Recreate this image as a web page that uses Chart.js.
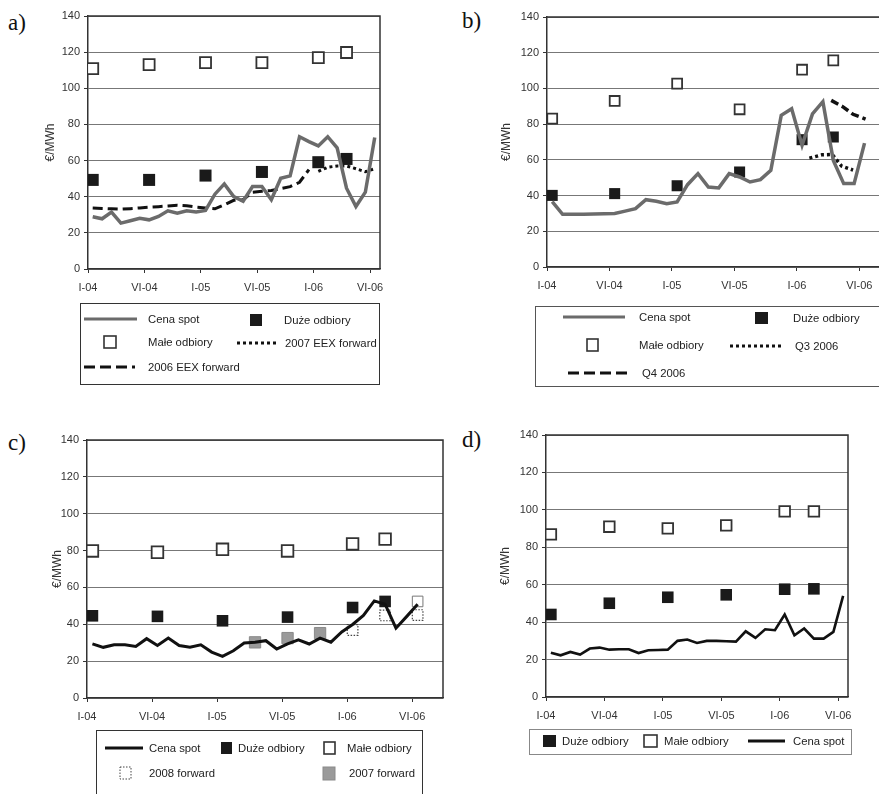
<!DOCTYPE html>
<html>
<head>
<meta charset="utf-8">
<script src="https://cdn.jsdelivr.net/npm/chart.js@4.4.1/dist/chart.umd.min.js"></script>
<style>
  body { margin: 0; width: 879px; height: 794px; position: relative; overflow: hidden; background: #fff;
         font-family: "Liberation Sans", Arial, sans-serif; }
  canvas { position: absolute; }
  .tag { position: absolute; font-family: "Liberation Serif", "Times New Roman", serif; font-size: 23px; line-height: 23px; color: #111; }
  .legend { position: absolute; box-sizing: border-box; border-style: solid; }
  .item { position: absolute; font-size: 11.3px; line-height: 14px; color: #222; white-space: nowrap; }
  #sym { position: absolute; left: 0; top: 0; overflow: visible; }
</style>
</head>
<body>
<div class="tag" style="left:8px;top:11px">a)</div>
<div class="tag" style="left:462px;top:9px">b)</div>
<div class="tag" style="left:8px;top:431px">c)</div>
<div class="tag" style="left:462px;top:428px">d)</div>
<canvas id="chart-a"></canvas>
<canvas id="chart-b"></canvas>
<canvas id="chart-c"></canvas>
<canvas id="chart-d"></canvas>
<svg id="sym" width="879" height="794"></svg>
<script>
// osie: miesiące od I-04
const tickMonths = [0, 6, 12, 18, 24, 30];
const tickLabels = ['I-04', 'VI-04', 'I-05', 'VI-05', 'I-06', 'VI-06'];
const spotMonths = [0.5, 1.5, 2.5, 3.5, 4.5, 5.5, 6.5, 7.5, 8.5, 9.5, 10.5, 11.5, 12.5, 13.5, 14.5, 15.5,
                    16.5, 17.5, 18.5, 19.5, 20.5, 21.5, 22.5, 23.5, 24.5, 25.5, 26.5, 27.5, 28.5, 29.5, 30.5];
const markerMonths = [0.5, 6.5, 12.5, 18.5, 24.5, 27.5];

// a)
const spotA = [28.9, 27.8, 31.5, 25.4, 26.7, 28.1, 27.2, 29.1, 32.2, 30.9, 32.2, 31.6, 32.4, 41.4, 47.1, 40.1,
               37.5, 45.6, 45.6, 38.3, 50.2, 51.5, 73.2, 70.5, 68.1, 73.2, 67.1, 44.7, 34.6, 42.5, 72.8];
const largeA = [49.3, 49.3, 51.7, 53.7, 59.1, 60.9];
const smallA = [110.9, 113.1, 114.2, 114.2, 117.0, 119.8];
const eex2006 = [33.7, 33.5, 33.3, 33.1, 33.4, 33.8, 34.2, 34.5, 34.9, 35.3, 35.0, 34.3,
                 33.8, 33.3, 35.5, 38.0, 38.3, 42.5, 43.0, 43.4, 44.5, 45.6, 48.0, 55.0];
const eex2007 = [54.0, 56.3, 57.0, 57.0, 55.5, 53.8, 55.5];

// b)
const spotB = [36.6, 29.5, 29.5, 29.6, 29.7, 29.8, 30.0, 31.3, 32.7, 37.7, 36.8, 35.5, 36.4, 46.1, 52.3, 44.8,
               44.3, 52.3, 50.4, 47.6, 48.9, 54.1, 84.9, 88.6, 68.1, 85.7, 92.6, 59.7, 46.7, 46.7, 69.4];
const largeB = [40.1, 41.1, 45.5, 53.2, 71.3, 72.8];
const smallB = [83.1, 93.0, 102.7, 88.3, 110.5, 115.7];
const q3Months = [25.2, 26.4, 27.4, 28.3, 29.4];
const q3 = [61.0, 62.8, 63.0, 56.5, 54.3];
const q4Months = [27.3, 28.4, 29.4, 30.6];
const q4 = [93.3, 89.8, 85.5, 82.8];

// c)
const spotC = [29.4, 27.5, 28.9, 28.9, 28.0, 32.2, 28.5, 32.5, 28.5, 27.5, 28.9, 24.9, 22.6, 25.6, 29.8, 30.3,
               31.1, 26.6, 29.4, 31.6, 29.3, 32.5, 30.3, 35.8, 39.9, 44.8, 52.7, 50.9, 37.9, 44.3, 50.9];
const largeC = [44.6, 44.3, 41.9, 43.9, 49.1, 52.4];
const smallC = [79.8, 79.1, 80.7, 79.8, 83.6, 86.2];
const fwd2007Months = [15.5, 18.5, 21.5];
const fwd2007 = [30.2, 32.5, 35.2];
const fwd2008Months = [24.5, 27.5, 30.5];
const fwd2008 = [36.9, 44.8, 45.0];
const fwd2008TopMonths = [30.5];
const fwd2008Top = [52.4];

// d)
const spotD = [23.7, 22.3, 24.1, 22.7, 25.9, 26.4, 25.3, 25.5, 25.5, 23.5, 25.0, 25.1, 25.3, 30.0, 30.7, 28.9,
               30.0, 30.0, 29.8, 29.6, 35.1, 31.6, 36.2, 35.7, 44.1, 33.0, 36.6, 31.2, 31.2, 34.8, 54.0];
const largeD = [44.1, 50.1, 53.3, 54.6, 57.6, 57.8];
const smallD = [86.9, 91.0, 90.1, 91.7, 99.2, 99.2];

const pts = (xs, ys) => ys.map((y, i) => ({x: xs[i], y: y}));

// ramka wykresu (góra i prawa krawędź)
const frame = {
    id: 'frame',
    beforeDatasetsDraw(chart) {
        const a = chart.chartArea, c = chart.ctx;
        c.save();
        c.strokeStyle = '#333';
        c.lineWidth = 1.5;
        c.beginPath();
        c.moveTo(a.left, a.top);
        c.lineTo(a.right, a.top);
        c.lineTo(a.right, a.bottom);
        c.stroke();
        c.restore();
    }
};

// kropkowana ramka punktów (2008 forward)
const dottedPoints = {
    id: 'dottedPoints',
    beforeDatasetDraw(chart, args) {
        const ds = chart.data.datasets[args.index];
        chart.ctx.save();
        if (ds.pointDash) chart.ctx.setLineDash(ds.pointDash);
    },
    afterDatasetDraw(chart) {
        chart.ctx.restore();
    }
};

function line(label, data, color, width, dash) {
    return {label: label, data: data, borderColor: color, borderWidth: width, borderDash: dash || [],
            pointRadius: 0, tension: 0, fill: false};
}

function squares(label, data, fill, stroke, radius, bw) {
    return {label: label, data: data, showLine: false, pointStyle: 'rect', pointRadius: radius,
            backgroundColor: fill, borderColor: stroke, pointBorderWidth: bw, pointBackgroundColor: fill,
            pointBorderColor: stroke};
}

function init_panel(id, g, datasets) {
    const cv = document.getElementById(id);
    cv.width = g.right - g.cx + 4;
    cv.height = g.bottom - g.cy + 28;
    cv.style.left = g.cx + 'px';
    cv.style.top = g.cy + 'px';
    new Chart(cv, {
        type: 'line',
        data: {datasets: datasets},
        options: {
            responsive: false,
            animation: false,
            layout: {padding: {top: g.top - g.cy, right: 4, left: 0, bottom: 0}, autoPadding: false},
            plugins: {legend: {display: false}, tooltip: {enabled: false}},
            scales: {
                x: {
                    type: 'linear', min: 0, max: g.xMax,
                    afterBuildTicks: s => { s.ticks = tickMonths.map(v => ({value: v})); },
                    afterFit: s => { s.height = 28; s.paddingLeft = 0; s.paddingRight = 0; },
                    ticks: {
                        autoSkip: false, maxRotation: 0, padding: 8, color: '#333',
                        font: {family: '"Liberation Sans", Arial, sans-serif', size: 11},
                        callback: v => tickLabels[tickMonths.indexOf(v)]
                    },
                    grid: {drawOnChartArea: false, tickLength: 4, color: '#333'},
                    border: {color: '#333', width: 1.5}
                },
                y: {
                    min: 0, max: 140,
                    afterFit: s => { s.width = g.axisX - g.cx; s.paddingTop = 0; s.paddingBottom = 0; },
                    ticks: {stepSize: 20, padding: 4, color: '#333',
                            font: {family: '"Liberation Sans", Arial, sans-serif', size: 11}},
                    grid: {color: '#777', lineWidth: 1, tickLength: 4, tickColor: '#333'},
                    border: {color: '#333', width: 1.5},
                    title: {display: true, text: '€/MWh', color: '#333', padding: {top: 2, bottom: 0},
                            font: {family: '"Liberation Sans", Arial, sans-serif', size: 12}}
                }
            }
        },
        plugins: [frame, dottedPoints]
    });
}

init_panel('chart-a', {cx: 41, cy: 8, axisX: 88, top: 16, right: 380, bottom: 269, xMax: 31.06}, [
    line('Cena spot', pts(spotMonths, spotA), '#6b6b6b', 3.5),
    line('2006 EEX forward', pts(spotMonths.slice(0, 24), eex2006), '#111', 3, [10, 5]),
    line('2007 EEX forward', pts(spotMonths.slice(24), eex2007), '#111', 3, [3, 3]),
    squares('Duże odbiory', pts(markerMonths, largeA), '#1a1a1a', '#1a1a1a', 8.5, 0),
    squares('Małe odbiory', pts(markerMonths, smallA), '#fff', '#333', 7.8, 1.8)
]);

init_panel('chart-b', {cx: 497, cy: 9, axisX: 547, top: 17, right: 884, bottom: 267, xMax: 32.37}, [
    line('Cena spot', pts(spotMonths, spotB), '#6b6b6b', 3.5),
    line('Q3 2006', pts(q3Months, q3), '#111', 3.5, [3, 3]),
    line('Q4 2006', pts(q4Months, q4), '#111', 3.5, [8, 4]),
    squares('Duże odbiory', pts(markerMonths, largeB), '#1a1a1a', '#1a1a1a', 7.8, 0),
    squares('Małe odbiory', pts(markerMonths, smallB), '#fff', '#333', 7, 1.8)
]);

init_panel('chart-c', {cx: 48, cy: 432, axisX: 87, top: 440, right: 443, bottom: 698, xMax: 32.84}, [
    line('Cena spot', pts(spotMonths, spotC), '#111', 3),
    squares('Duże odbiory', pts(markerMonths, largeC), '#1a1a1a', '#1a1a1a', 8.2, 0),
    squares('Małe odbiory', pts(markerMonths, smallC), '#fff', '#333', 8.2, 1.8),
    squares('2007 forward', pts(fwd2007Months, fwd2007), '#9a9a9a', '#8a8a8a', 8, 1),
    Object.assign(squares('2008 forward', pts(fwd2008Months, fwd2008), 'rgba(255,255,255,0)', '#444', 7.5, 1.2), {pointDash: [1.5, 1.5]}),
    squares('2008 forward', pts(fwd2008TopMonths, fwd2008Top), 'rgba(255,255,255,0)', '#777', 7.5, 1)
]);

init_panel('chart-d', {cx: 496, cy: 427, axisX: 546, top: 435, right: 848, bottom: 697, xMax: 31.0}, [
    line('Cena spot', pts(spotMonths, spotD), '#111', 2.6),
    squares('Duże odbiory', pts(markerMonths, largeD), '#1a1a1a', '#1a1a1a', 8.2, 0),
    squares('Małe odbiory', pts(markerMonths, smallD), '#fff', '#333', 7.5, 1.8)
]);

// legendy
const svg = document.getElementById('sym');

function symbol(it) {
    const h = 6;
    switch (it.s) {
        case 'line': return `<line x1="${it.x1}" y1="${it.y}" x2="${it.x2}" y2="${it.y}" stroke="${it.c}" stroke-width="3"/>`;
        case 'dash': return `<line x1="${it.x1}" y1="${it.y}" x2="${it.x2}" y2="${it.y}" stroke="#111" stroke-width="3" stroke-dasharray="11 5"/>`;
        case 'dot': return `<line x1="${it.x1}" y1="${it.y}" x2="${it.x2}" y2="${it.y}" stroke="#111" stroke-width="3" stroke-dasharray="3 3"/>`;
        case 'fill': return `<rect x="${it.x1}" y="${it.y - h}" width="${it.x2 - it.x1}" height="12" fill="#1a1a1a"/>`;
        case 'open': return `<rect x="${it.x1}" y="${it.y - h}" width="${it.x2 - it.x1}" height="12" fill="#fff" stroke="#333" stroke-width="1.6"/>`;
        case 'dotbox': return `<rect x="${it.x1}" y="${it.y - h}" width="${it.x2 - it.x1}" height="12" fill="none" stroke="#444" stroke-width="1" stroke-dasharray="1.5 1.5"/>`;
        case 'gray': return `<rect x="${it.x1}" y="${it.y - h}" width="${it.x2 - it.x1}" height="13" fill="#9a9a9a" stroke="#8a8a8a" stroke-width="1"/>`;
    }
}

function init_legend(box, items) {
    const b = document.createElement('div');
    b.className = 'legend';
    b.style.cssText = `left:${box.x}px;top:${box.y}px;width:${box.w}px;height:${box.h}px;border-width:${box.bw}px;border-color:${box.c}`;
    document.body.appendChild(b);
    items.forEach(it => {
        svg.insertAdjacentHTML('beforeend', symbol(it));
        const t = document.createElement('div');
        t.className = 'item';
        t.textContent = it.t;
        t.style.left = it.tx + 'px';
        t.style.top = (it.y - 7) + 'px';
        document.body.appendChild(t);
    });
}

init_legend({x: 80, y: 303, w: 300, h: 82, bw: 1.5, c: '#333'}, [
    {s: 'line', c: '#6b6b6b', x1: 84, x2: 137, y: 319, t: 'Cena spot', tx: 148},
    {s: 'fill', x1: 250, x2: 262, y: 320, t: 'Duże odbiory', tx: 284},
    {s: 'open', x1: 104, x2: 116, y: 342, t: 'Małe odbiory', tx: 148},
    {s: 'dot', x1: 237, x2: 278, y: 343, t: '2007 EEX forward', tx: 285},
    {s: 'dash', x1: 84, x2: 135, y: 367, t: '2006 EEX forward', tx: 148}
]);

init_legend({x: 535, y: 306, w: 360, h: 81, bw: 1, c: '#555'}, [
    {s: 'line', c: '#6b6b6b', x1: 563, x2: 625, y: 317, t: 'Cena spot', tx: 639},
    {s: 'fill', x1: 755, x2: 768, y: 318, t: 'Duże odbiory', tx: 793},
    {s: 'open', x1: 587, x2: 598, y: 345, t: 'Małe odbiory', tx: 639},
    {s: 'dot', x1: 730, x2: 783, y: 346, t: 'Q3 2006', tx: 795},
    {s: 'dash', x1: 568, x2: 627, y: 373, t: 'Q4 2006', tx: 642}
]);

init_legend({x: 96, y: 730, w: 327, h: 80, bw: 1.5, c: '#333'}, [
    {s: 'line', c: '#111', x1: 105, x2: 143, y: 748, t: 'Cena spot', tx: 149},
    {s: 'fill', x1: 221, x2: 232, y: 748, t: 'Duże odbiory', tx: 238},
    {s: 'open', x1: 324, x2: 335, y: 748, t: 'Małe odbiory', tx: 347},
    {s: 'dotbox', x1: 120, x2: 131, y: 773, t: '2008 forward', tx: 149},
    {s: 'gray', x1: 323, x2: 335, y: 773, t: '2007 forward', tx: 349}
]);

init_legend({x: 529, y: 729, w: 323, h: 26, bw: 1, c: '#888'}, [
    {s: 'fill', x1: 543, x2: 556, y: 741, t: 'Duże odbiory', tx: 562},
    {s: 'open', x1: 644, x2: 657, y: 741, t: 'Małe odbiory', tx: 664},
    {s: 'line', c: '#111', x1: 748, x2: 785, y: 741, t: 'Cena spot', tx: 793}
]);
</script>
</body>
</html>
